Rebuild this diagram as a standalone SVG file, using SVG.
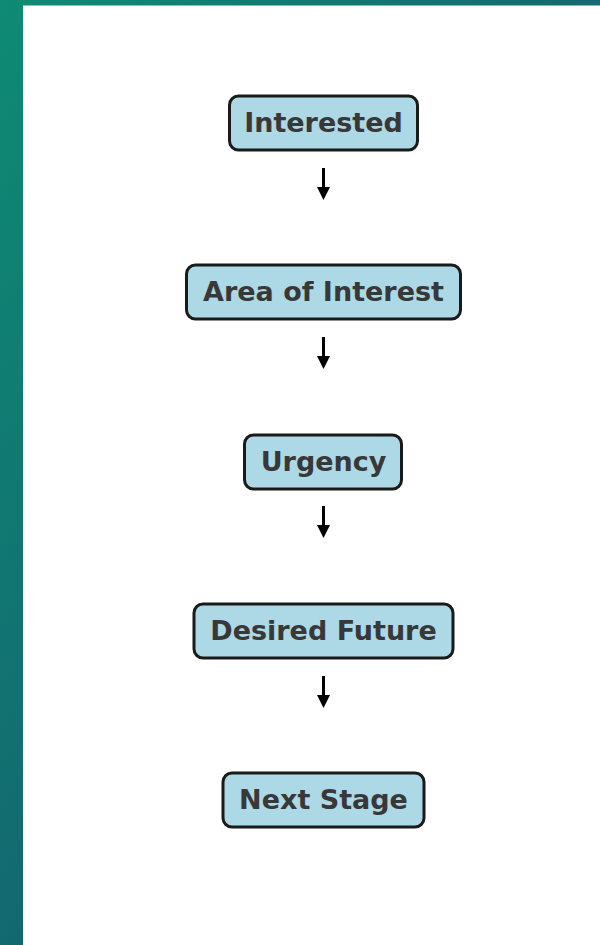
<svg xmlns="http://www.w3.org/2000/svg" width="600" height="945" viewBox="0 0 600 945">
  <defs>
    <linearGradient id="bg" x1="0" y1="0" x2="1" y2="1">
      <stop offset="0" stop-color="#0E8B74"/>
      <stop offset="1" stop-color="#18476C"/>
    </linearGradient>
    <style>
      .node rect { fill: #ADD8E6; stroke: #1a1a1a; stroke-width: 3; }
      .node text { font-family: "DejaVu Sans", Verdana, sans-serif; font-weight: bold; font-size: 27px; fill: #383838; text-anchor: middle; }
      .conn line { stroke: #000; stroke-width: 3; }
      .conn polygon { fill: #000; }
    </style>
  </defs>
  <rect x="0" y="0" width="600" height="945" fill="url(#bg)"/>
  <rect x="23" y="5.5" width="577" height="939.5" fill="#ffffff"/>

  <g id="connectors" class="conn">
    <line x1="323.5" y1="168" x2="323.5" y2="190"/>
    <polygon points="317,187 330,187 323.5,200"/>
    <line x1="323.5" y1="337" x2="323.5" y2="359"/>
    <polygon points="317,356 330,356 323.5,369"/>
    <line x1="323.5" y1="506" x2="323.5" y2="528"/>
    <polygon points="317,525 330,525 323.5,538"/>
    <line x1="323.5" y1="676" x2="323.5" y2="698"/>
    <polygon points="317,695 330,695 323.5,708"/>
  </g>

  <g id="node-interested" class="node">
    <rect x="229.5" y="96" width="188" height="54" rx="9"/>
    <text x="323.5" y="131.5">Interested</text>
  </g>
  <g id="node-area" class="node">
    <rect x="186.5" y="265" width="274" height="54" rx="9"/>
    <text x="323.5" y="300.5">Area of Interest</text>
  </g>
  <g id="node-urgency" class="node">
    <rect x="244.5" y="435" width="157" height="54" rx="9"/>
    <text x="323.5" y="470.5">Urgency</text>
  </g>
  <g id="node-desired" class="node">
    <rect x="194" y="604" width="259" height="54" rx="9"/>
    <text x="323.5" y="639.5">Desired Future</text>
  </g>
  <g id="node-next" class="node">
    <rect x="223" y="773" width="201" height="54" rx="9"/>
    <text x="323.5" y="808.5">Next Stage</text>
  </g>
</svg>
